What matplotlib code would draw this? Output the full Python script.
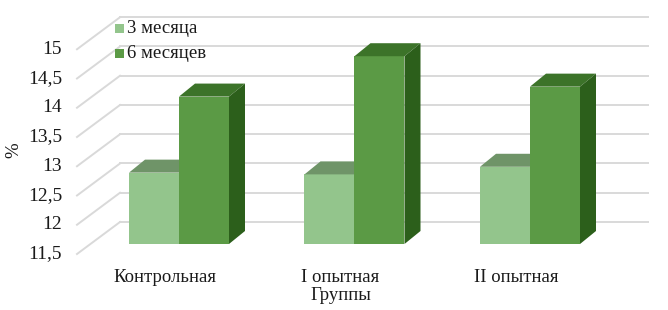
import numpy as np
import matplotlib.pyplot as plt
from matplotlib.patches import Polygon

plt.rcParams['font.family'] = ['Liberation Serif', 'DejaVu Serif']

# data
groups = ['Контрольная', 'I опытная', 'II опытная']
m3 = [12.72, 12.69, 12.82]
m6 = [14.02, 14.71, 14.19]
series_names = ['3 месяца', '6 месяцев']
yticks = [11.5, 12, 12.5, 13, 13.5, 14, 14.5, 15]
ytick_labels = ['11,5', '12', '12,5', '13', '13,5', '14', '14,5', '15']

# colours: front, top, side
light = ('#93C58C', '#6F9468', '#4F7A48')
dark = ('#5B9A45', '#3C7329', '#2C5F1B')

W, H = 668, 310
fig = plt.figure(figsize=(W / 100, H / 100), dpi=100)
ax = fig.add_axes([0, 0, 1, 1])

# pixel -> data scale (category units on x, values on y)
px_x = 175.5   # pixels per category
px_y = 58.5    # pixels per unit value
x0, y0 = 179, 244   # pixel of category 0 / value 11.5
ax.set_xlim(-x0 / px_x, (W - x0) / px_x)
ax.set_ylim(11.5 - (H - y0) / px_y, 11.5 + y0 / px_y)
ax.axis('off')

def dx(p):
    return p / px_x

def dy(p):
    return p / px_y

xs = np.arange(len(groups))
bw = dx(50)
base = 11.5
tc = '#1a1a1a'

# grid: diagonal on the floor side + back wall line
gc = '#D9D9D9'
for v, lab in zip(yticks, ytick_labels):
    ax.plot([dx(77 - x0), dx(120 - x0)], [v - dy(10), v + dy(22)], color=gc, lw=1.4, zorder=1)
    ax.plot([dx(120 - x0), dx(648 - x0)], [v + dy(22), v + dy(22)], color=gc, lw=1.4, zorder=1)
    ax.text(dx(62 - x0), v - dy(10), lab, ha='right', va='center', fontsize=14, color=tc)

# 3d bars
ddx, ddy = dx(16), dy(13)

def bar3d(xl, val, cols, z):
    ax.bar(xl, val - base, bottom=base, width=bw, align='edge', color=cols[0], lw=0, zorder=z)
    top = [(xl, val), (xl + bw, val), (xl + bw + ddx, val + ddy), (xl + ddx, val + ddy)]
    side = [(xl + bw, base), (xl + bw + ddx, base + ddy), (xl + bw + ddx, val + ddy), (xl + bw, val)]
    ax.add_patch(Polygon(top, closed=True, color=cols[1], lw=0, zorder=z))
    ax.add_patch(Polygon(side, closed=True, color=cols[2], lw=0, zorder=z))

for i in xs:
    bar3d(i - bw, m3[i], light, 3)
    bar3d(i, m6[i], dark, 4)

# category labels
for i in xs:
    ax.text(i - dx(14), base - dy(34), groups[i], ha='center', va='center', fontsize=13.5, color=tc)
ax.text(1 - dx(14), base - dy(51), 'Группы', ha='center', va='center', fontsize=13.5, color=tc)

# y label
ax.text(dx(14 - x0), base + dy(94), '%', rotation=90, ha='center', va='center',
        fontsize=13.5, color=tc)

# legend
for k, (name, c) in enumerate(zip(series_names, [light[0], dark[0]])):
    yy = base + dy(244 - 29 - 25 * k)
    ax.add_patch(plt.Rectangle((dx(115 - x0), yy - dy(4.5)), dx(9), dy(9), color=c, lw=0))
    ax.text(dx(127 - x0), yy, name, ha='left', va='center', fontsize=13.5, color=tc)

fig.savefig('out.png', dpi=100)
